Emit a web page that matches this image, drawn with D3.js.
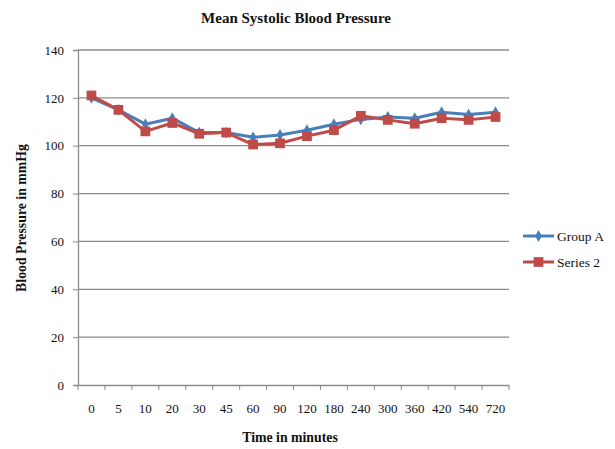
<!DOCTYPE html>
<html>
<head>
<meta charset="utf-8">
<script src="https://cdn.jsdelivr.net/npm/d3@7"></script>
<style>
  html, body { margin: 0; padding: 0; background: #fff; }
  svg { display: block; font-family: "Liberation Serif", "DejaVu Serif", serif; }
</style>
</head>
<body>
<svg id="chart" width="615" height="449"></svg>
<script>
// Time points (minutes) and mean systolic pressure per group
const times = ["0", "5", "10", "20", "30", "45", "60", "90", "120", "180", "240", "300", "360", "420", "540", "720"];
const groupA = [120, 115, 109, 111.5, 105.5, 105.5, 103.5, 104.5, 106.5, 109, 111, 112, 111.5, 114, 113, 114];
const series2 = [121, 115, 106, 109.5, 105, 105.5, 100.5, 101, 104, 106.5, 112.5, 110.8, 109.2, 111.5, 110.8, 112];
const yTicks = [0, 20, 40, 60, 80, 100, 120, 140];

const seriesList = [
  { name: "Group A", values: groupA, color: "#4a7ebb", marker: "diamond" },
  { name: "Series 2", values: series2, color: "#be4b48", marker: "square" }
];

const svg = d3.select("#chart");
const plot = { left: 78, right: 509, top: 50, bottom: 385 };

const x = d3.scaleBand().domain(times).range([plot.left, plot.right]);
const y = d3.scaleLinear().domain([0, 140]).range([plot.bottom, plot.top]);

// Horizontal gridlines
svg.append("g")
  .selectAll("line")
  .data(yTicks.filter(d => d > 0))
  .join("line")
  .attr("x1", plot.left).attr("x2", plot.right)
  .attr("y1", d => y(d)).attr("y2", d => y(d))
  .attr("stroke", "#8c8c8c").attr("stroke-width", 1.3);

// Y axis
const yAxis = svg.append("g")
  .attr("transform", `translate(${plot.left},0)`)
  .call(d3.axisLeft(y).tickValues(yTicks).tickSize(5).tickPadding(9));
yAxis.select(".domain").attr("stroke", "#8c8c8c").attr("stroke-width", 1.3);
yAxis.selectAll(".tick line").attr("stroke", "#8c8c8c");
yAxis.selectAll("text").attr("font-size", 13).attr("fill", "#111")
  .attr("font-family", "Liberation Serif, serif");

// X axis: ticks at category boundaries, labels centred in each band
const xAxis = svg.append("g")
  .attr("transform", `translate(0,${plot.bottom})`)
  .call(d3.axisBottom(x).tickSize(0).tickPadding(19));
xAxis.select(".domain").attr("stroke", "#8c8c8c").attr("stroke-width", 1.3);
xAxis.selectAll("text").attr("font-size", 13).attr("fill", "#111")
  .attr("font-family", "Liberation Serif, serif");
const boundaries = times.map(t => x(t)).concat([x(times[times.length - 1]) + x.bandwidth()]);
xAxis.selectAll("line.bound")
  .data(boundaries)
  .join("line")
  .attr("class", "bound")
  .attr("x1", d => d).attr("x2", d => d)
  .attr("y1", 0).attr("y2", 5)
  .attr("stroke", "#8c8c8c");

// Series lines and markers
const line = d3.line()
  .x((d, i) => x(times[i]) + x.bandwidth() / 2)
  .y(d => y(d));

const diamond = d3.symbol().type(d3.symbolDiamond).size(40);
const square = d3.symbol().type(d3.symbolSquare).size(95);

seriesList.forEach(s => {
  svg.append("path")
    .datum(s.values)
    .attr("d", line)
    .attr("fill", "none")
    .attr("stroke", s.color)
    .attr("stroke-width", 3)
    .attr("stroke-linejoin", "round");
  svg.append("g")
    .selectAll("path")
    .data(s.values)
    .join("path")
    .attr("transform", (d, i) => `translate(${x(times[i]) + x.bandwidth() / 2},${y(d)})`)
    .attr("d", s.marker === "diamond" ? diamond : square)
    .attr("fill", s.color);
});

// Legend
const legend = svg.append("g").attr("transform", "translate(523,236)");
seriesList.forEach((s, i) => {
  const g = legend.append("g").attr("transform", `translate(0,${i * 26})`);
  g.append("line").attr("x1", 0).attr("x2", 31).attr("y1", 0).attr("y2", 0)
    .attr("stroke", s.color).attr("stroke-width", 3);
  g.append("path").attr("transform", "translate(15.5,0)")
    .attr("d", s.marker === "diamond" ? diamond : square)
    .attr("fill", s.color);
  g.append("text").attr("x", 34).attr("y", 4.5)
    .attr("font-size", 13.5).attr("fill", "#111")
    .text(s.name);
});

// Titles
svg.append("text")
  .attr("x", 296).attr("y", 23)
  .attr("text-anchor", "middle")
  .attr("font-size", 15).attr("font-weight", "bold").attr("fill", "#111")
  .text("Mean Systolic Blood Pressure");

svg.append("text")
  .attr("x", 290).attr("y", 442)
  .attr("text-anchor", "middle")
  .attr("font-size", 13.8).attr("font-weight", "bold").attr("fill", "#111")
  .text("Time in minutes");

svg.append("text")
  .attr("transform", "translate(26,218) rotate(-90)")
  .attr("text-anchor", "middle")
  .attr("font-size", 13.8).attr("font-weight", "bold").attr("fill", "#111")
  .text("Blood Pressure in mmHg");
</script>
</body>
</html>
